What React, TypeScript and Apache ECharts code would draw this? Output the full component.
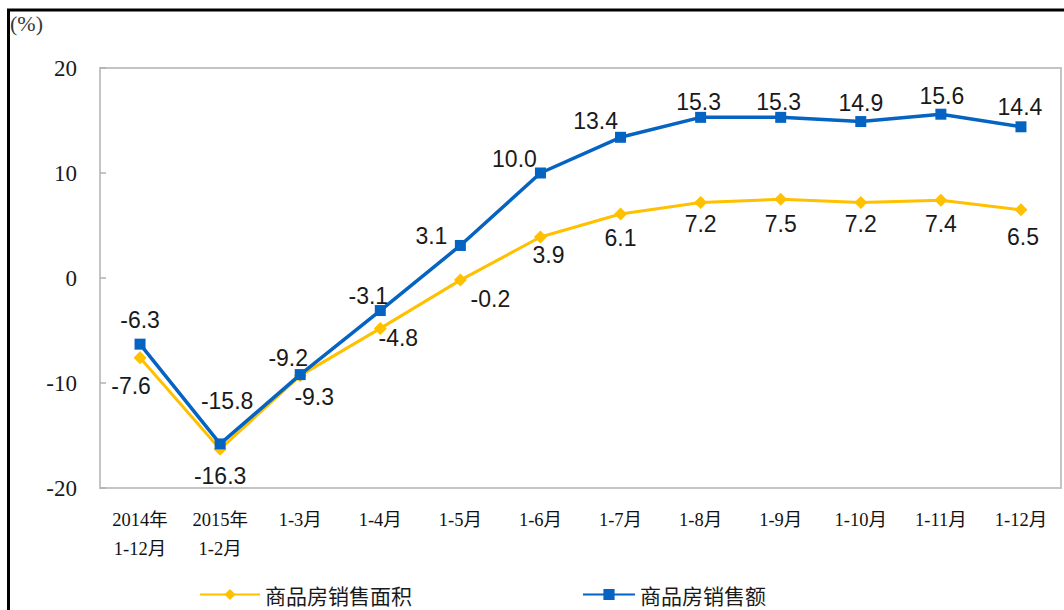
import React, { useEffect, useRef } from "react";
import * as echarts from "echarts";

const categories = [
  "2014年\n1-12月",
  "2015年\n1-2月",
  "1-3月",
  "1-4月",
  "1-5月",
  "1-6月",
  "1-7月",
  "1-8月",
  "1-9月",
  "1-10月",
  "1-11月",
  "1-12月",
];
const areaName = "商品房销售面积";
const salesName = "商品房销售额";
const areaValues = [-7.6, -16.3, -9.3, -4.8, -0.2, 3.9, 6.1, 7.2, 7.5, 7.2, 7.4, 6.5];
const salesValues = [-6.3, -15.8, -9.2, -3.1, 3.1, 10.0, 13.4, 15.3, 15.3, 14.9, 15.6, 14.4];
const yMin = -20;
const yMax = 20;
const yInterval = 10;

// label offsets (style only)
const areaLabelOffsets = [
  [-9, 28], [0, 27], [14, 21], [18, 10], [30, 19], [8, 18],
  [0, 24], [0, 22], [0, 25], [0, 22], [0, 24], [2, 27],
];
const salesLabelOffsets = [
  [0, -24], [7, -43], [-12, -17], [-12, -15], [-29, -9], [-26, -14],
  [-25, -16], [-2, -15], [-2, -15], [0, -19], [1, -18], [-1, -20],
];

const labelFont = {
  fontFamily: "Liberation Sans, Arial, sans-serif",
  fontSize: 23,
  color: "#1a1a1a",
};

function buildData(values: number[], offsets: number[][]) {
  return values.map((v, i) => ({
    value: v,
    label: {
      show: true,
      position: "inside",
      offset: offsets[i],
      formatter: (p: any) => Number(p.value).toFixed(1),
      ...labelFont,
    },
  }));
}

export default function App() {
  const ref = useRef<HTMLDivElement>(null);
  useEffect(() => {
    const chart = echarts.init(ref.current!, null, { renderer: "svg" });
    const legendText = {
      fontFamily: "Noto Sans CJK SC, sans-serif",
      fontSize: 21,
      color: "#1a1a1a",
    };
    chart.setOption({
      animation: false,
      backgroundColor: "#ffffff",
      graphic: [
        {
          type: "rect",
          shape: { x: 8.5, y: 10, width: 1100, height: 700 },
          style: { fill: "none", stroke: "#000", lineWidth: 3 },
          z: 100,
        },
        {
          type: "text",
          left: 10,
          top: 12,
          style: {
            text: "(%)",
            fontFamily: "Liberation Serif, serif",
            fontSize: 22,
            fill: "#3a3a3a",
          },
        },
      ],
      grid: {
        left: 100,
        top: 68,
        right: 3,
        bottom: 122,
        show: true,
        borderColor: "#c4c4c4",
        borderWidth: 2,
      },
      legend: [
        {
          data: [areaName],
          left: 194,
          top: 579,
          itemWidth: 60,
          itemHeight: 14,
          textStyle: legendText,
        },
        {
          data: [salesName],
          left: 577,
          top: 579,
          itemWidth: 52,
          itemHeight: 14,
          textStyle: legendText,
        },
      ],
      xAxis: {
        type: "category",
        data: categories,
        boundaryGap: true,
        axisLine: { show: false },
        axisTick: { show: false },
        axisLabel: {
          interval: 0,
          margin: 17,
          fontFamily: "Liberation Serif, Noto Sans CJK SC, serif",
          fontSize: 18.5,
          lineHeight: 29,
          color: "#111111",
        },
      },
      yAxis: {
        type: "value",
        min: yMin,
        max: yMax,
        interval: yInterval,
        splitLine: { show: false },
        axisLine: { show: false },
        axisTick: {
          show: true,
          inside: true,
          length: 6,
          lineStyle: { color: "#b0b0b0", width: 1.5 },
        },
        axisLabel: {
          margin: 23,
          fontFamily: "Liberation Serif, serif",
          fontSize: 23,
          color: "#1a1a1a",
        },
      },
      series: [
        {
          name: areaName,
          type: "line",
          data: buildData(areaValues, areaLabelOffsets),
          symbol: "diamond",
          symbolSize: 13,
          lineStyle: { color: "#FFC000", width: 3 },
          itemStyle: { color: "#FFC000" },
          z: 2,
        },
        {
          name: salesName,
          type: "line",
          data: buildData(salesValues, salesLabelOffsets),
          symbol: "rect",
          symbolSize: 11,
          lineStyle: { color: "#0563C1", width: 3.5 },
          itemStyle: { color: "#0563C1" },
          z: 3,
        },
      ],
    });
    return () => chart.dispose();
  }, []);
  return (
    <div
      ref={ref}
      style={{ position: "fixed", left: 0, top: 0, width: 1064, height: 610 }}
    />
  );
}
